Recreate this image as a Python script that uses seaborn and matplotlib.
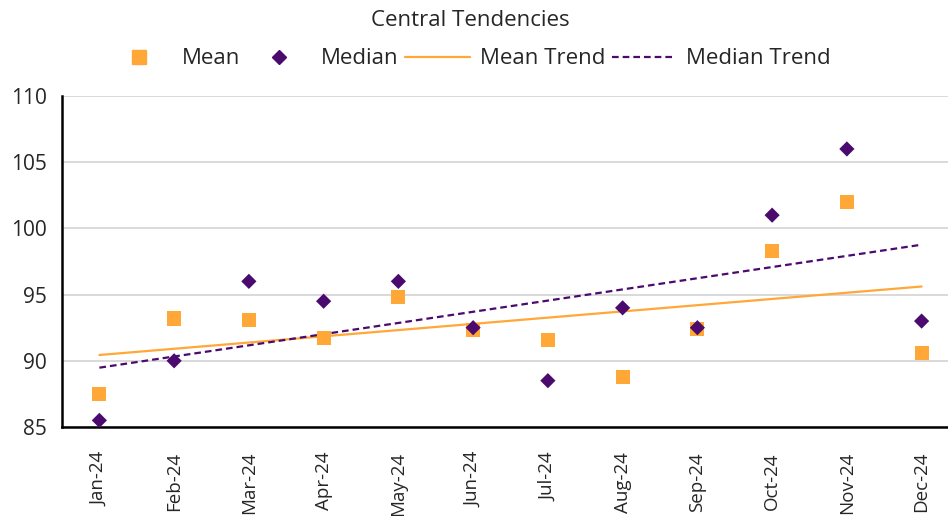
import numpy as np
import pandas as pd
import matplotlib
matplotlib.use("Agg")
import matplotlib.pyplot as plt
import seaborn as sns
from matplotlib.lines import Line2D

months = ["Jan-24", "Feb-24", "Mar-24", "Apr-24", "May-24", "Jun-24",
          "Jul-24", "Aug-24", "Sep-24", "Oct-24", "Nov-24", "Dec-24"]
mean_vals = [87.5, 93.2, 93.1, 91.7, 94.8, 92.3, 91.6, 88.8, 92.4, 98.3, 102.0, 90.6]
median_vals = [85.5, 90.0, 96.0, 94.5, 96.0, 92.5, 88.5, 94.0, 92.5, 101.0, 106.0, 93.0]

orange = "#FFA838"
purple = "#4B0A6E"

df = pd.DataFrame({"idx": np.arange(len(months)), "month": months,
                   "Mean": mean_vals, "Median": median_vals})

sns.set_style("white")
plt.rcParams["font.family"] = ["Open Sans", "DejaVu Sans"]

fig = plt.figure(figsize=(9.48, 5.16), dpi=100)
# axes runs past the right edge of the figure, as in the reference
ax = fig.add_axes([62 / 948, 1 - 427 / 516, 897 / 948, 331 / 516])

# trend lines (least squares fit over month index)
sns.regplot(data=df, x="idx", y="Mean", ax=ax, scatter=False, ci=None,
            truncate=True, color=orange, line_kws={"lw": 1.6, "zorder": 2})
sns.regplot(data=df, x="idx", y="Median", ax=ax, scatter=False, ci=None,
            truncate=True, color=purple,
            line_kws={"lw": 1.6, "ls": (0, (3, 1.8)), "zorder": 2})

sns.scatterplot(data=df, x="idx", y="Mean", ax=ax, marker="s", s=105,
                color=orange, edgecolor="none", zorder=3)
sns.scatterplot(data=df, x="idx", y="Median", ax=ax, marker="D", s=60,
                color=purple, edgecolor="none", zorder=4)

ax.set_xlim(-0.5, 11.5)
ax.set_ylim(85, 110)
ax.set_yticks(range(85, 111, 5))
ax.set_xticks(np.arange(len(months)))
ax.set_xticklabels(months, rotation=90, fontsize=13.5)
ax.set_xticks(np.arange(len(months) + 1) - 0.5, minor=True)
ax.tick_params(axis="x", which="major", length=0, pad=18)
ax.tick_params(axis="x", which="minor", length=8, width=1.6, color="black")
ax.tick_params(axis="y", length=7, width=1.6, color="black", labelsize=15, pad=4)
ax.set_xlabel("")
ax.set_ylabel("")

ax.grid(axis="y", color="#D9D9D9", lw=1.4)
ax.set_axisbelow(True)
for s in ["top", "right"]:
    ax.spines[s].set_visible(False)
for s in ["left", "bottom"]:
    ax.spines[s].set_color("black")
    ax.spines[s].set_linewidth(1.8)

fig.text(470 / 948, 1 - 20 / 516, "Central Tendencies", ha="center", va="center",
         fontsize=16)

handles = [
    Line2D([], [], marker="s", ls="none", color=orange, markersize=10),
    Line2D([], [], marker="D", ls="none", color=purple, markersize=7),
    Line2D([], [], color=orange, lw=1.6),
    Line2D([], [], color=purple, lw=1.6, ls=(0, (3, 1.8))),
]
fig.legend(handles, ["Mean", "Median", "Mean Trend", "Median Trend"],
           loc="center", bbox_to_anchor=(469 / 948, 1 - 59 / 516), ncol=4,
           frameon=False, fontsize=16, handlelength=2.9, handletextpad=0.45,
           columnspacing=0.3)

fig.savefig("out.png", dpi=100)
